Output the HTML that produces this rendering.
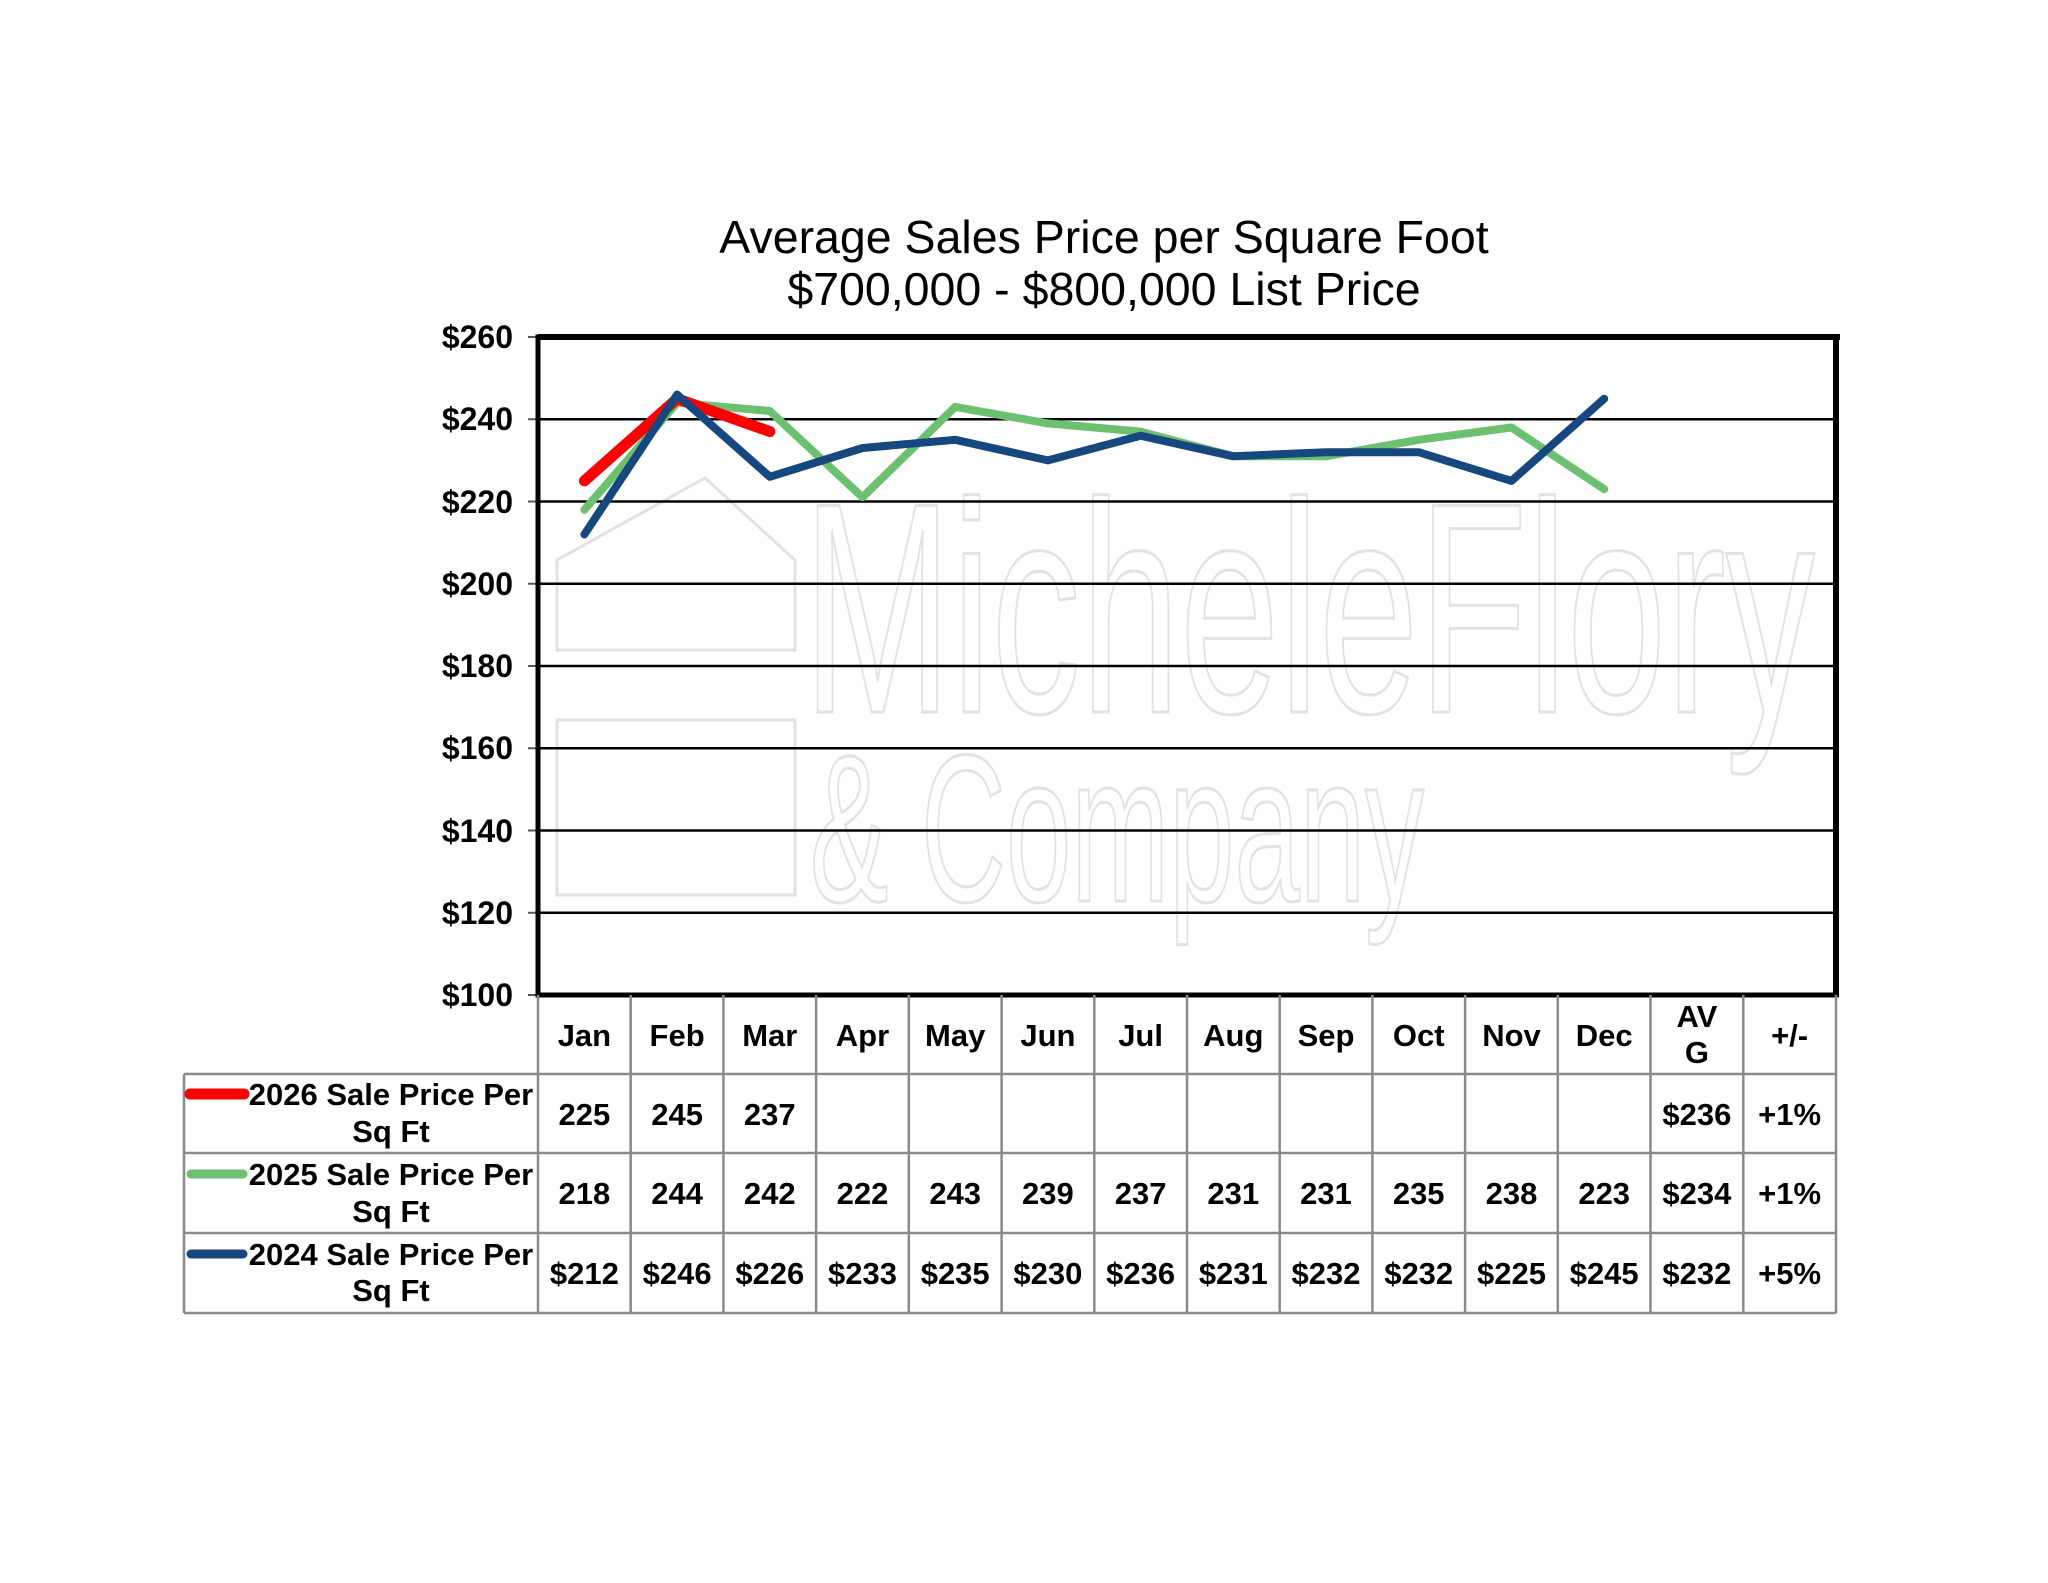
<!DOCTYPE html>
<html><head><meta charset="utf-8"><style>
html,body{margin:0;padding:0;background:#fff;}
svg{display:block;}
.t{font-family:"Liberation Sans",Arial,sans-serif;}
</style></head><body>
<svg width="2048" height="1583" viewBox="0 0 2048 1583" xmlns="http://www.w3.org/2000/svg">
<rect width="2048" height="1583" fill="#fff"/>
<text class="t" x="1104" y="253" font-size="46.5" text-anchor="middle">Average Sales Price per Square Foot</text>
<text class="t" x="1104" y="305" font-size="46.5" text-anchor="middle">$700,000 - $800,000 List Price</text>

<!-- watermark -->
<g fill="none" stroke="#e2e2e2" stroke-width="3">
<text class="t" x="803" y="712" font-size="300" textLength="1012" lengthAdjust="spacingAndGlyphs">MicheleFlory</text>
<text class="t" x="810" y="901" font-size="210" textLength="614" lengthAdjust="spacingAndGlyphs">&amp; Company</text>
<path d="M557 640 V560 L705 478 L795 560 V650 H557 Z"/>
<path d="M557 895 V720 H795 V895 Z"/>
</g>

<!-- gridlines -->
<g stroke="#000" stroke-width="2.5">
<line x1="538" x2="1836" y1="419.25" y2="419.25"/>
<line x1="538" x2="1836" y1="501.5" y2="501.5"/>
<line x1="538" x2="1836" y1="583.75" y2="583.75"/>
<line x1="538" x2="1836" y1="666" y2="666"/>
<line x1="538" x2="1836" y1="748.25" y2="748.25"/>
<line x1="538" x2="1836" y1="830.5" y2="830.5"/>
<line x1="538" x2="1836" y1="912.75" y2="912.75"/>
</g>
<g stroke="#555" stroke-width="2">
<line x1="528" x2="538" y1="337" y2="337"/><line x1="528" x2="538" y1="419.25" y2="419.25"/>
<line x1="528" x2="538" y1="501.5" y2="501.5"/><line x1="528" x2="538" y1="583.75" y2="583.75"/>
<line x1="528" x2="538" y1="666" y2="666"/><line x1="528" x2="538" y1="748.25" y2="748.25"/>
<line x1="528" x2="538" y1="830.5" y2="830.5"/><line x1="528" x2="538" y1="912.75" y2="912.75"/>
<line x1="528" x2="538" y1="995" y2="995"/>
</g>
<rect x="538" y="337" width="1298" height="658" fill="none" stroke="#000" stroke-width="5"/>
<line x1="538" x2="1840" y1="337" y2="337" stroke="#000" stroke-width="6"/>
<line x1="1836" x2="1836" y1="335" y2="997" stroke="#000" stroke-width="6"/>

<g class="t" font-weight="bold" font-size="32" text-anchor="end">
<text x="513" y="348">$260</text><text x="513" y="430">$240</text>
<text x="513" y="513">$220</text><text x="513" y="595">$200</text>
<text x="513" y="677">$180</text><text x="513" y="759">$160</text>
<text x="513" y="842">$140</text><text x="513" y="924">$120</text>
<text x="513" y="1006">$100</text>
</g>

<!-- series -->
<g fill="none" stroke-linejoin="round" stroke-linecap="round">
<polyline stroke="#6cc070" stroke-width="8" points="584.4,509.7 677.1,402.8 769.8,411 862.5,497.3 955.2,406.9 1047.9,423.4 1140.6,431.6 1233.3,456.3 1326,456.3 1418.7,439.8 1511.5,427.5 1604.2,489.2"/>
<polyline stroke="#ff0000" stroke-width="11" points="584.4,480.9 677.1,398.7 769.8,431.6"/>
<polyline stroke="#17477f" stroke-width="8" points="584.4,534.4 677.1,394.6 769.8,476.8 862.5,448 955.2,439.8 1047.9,460.4 1140.6,435.7 1233.3,456.3 1326,452.2 1418.7,452.2 1511.5,480.9 1604.2,398.7"/>
</g>

<!-- table -->
<g stroke="#8a8a8a" stroke-width="2.5">
<line x1="184" x2="1836" y1="1074" y2="1074"/>
<line x1="184" x2="1836" y1="1153" y2="1153"/>
<line x1="184" x2="1836" y1="1233" y2="1233"/>
<line x1="184" x2="1836" y1="1313" y2="1313"/>
<line x1="184" x2="184" y1="1074" y2="1313"/>
<line x1="538" x2="538" y1="995" y2="1313"/><line x1="630.7" x2="630.7" y1="995" y2="1313"/>
<line x1="723.4" x2="723.4" y1="995" y2="1313"/><line x1="816.1" x2="816.1" y1="995" y2="1313"/>
<line x1="908.8" x2="908.8" y1="995" y2="1313"/><line x1="1001.6" x2="1001.6" y1="995" y2="1313"/>
<line x1="1094.3" x2="1094.3" y1="995" y2="1313"/><line x1="1187" x2="1187" y1="995" y2="1313"/>
<line x1="1279.7" x2="1279.7" y1="995" y2="1313"/><line x1="1372.4" x2="1372.4" y1="995" y2="1313"/>
<line x1="1465.1" x2="1465.1" y1="995" y2="1313"/><line x1="1557.8" x2="1557.8" y1="995" y2="1313"/>
<line x1="1650.5" x2="1650.5" y1="995" y2="1313"/><line x1="1743.3" x2="1743.3" y1="995" y2="1313"/>
<line x1="1836" x2="1836" y1="995" y2="1313"/>
</g>
<g class="t" font-weight="bold" font-size="31" text-anchor="middle">
<text x="584.4" y="1046">Jan</text><text x="677.1" y="1046">Feb</text><text x="769.8" y="1046">Mar</text>
<text x="862.5" y="1046">Apr</text><text x="955.2" y="1046">May</text><text x="1047.9" y="1046">Jun</text>
<text x="1140.6" y="1046">Jul</text><text x="1233.3" y="1046">Aug</text><text x="1326" y="1046">Sep</text>
<text x="1418.7" y="1046">Oct</text><text x="1511.5" y="1046">Nov</text><text x="1604.2" y="1046">Dec</text>
<text x="1696.9" y="1027">AV</text><text x="1696.9" y="1063">G</text><text x="1789.6" y="1046">+/-</text>

<text x="584.4" y="1125">225</text><text x="677.1" y="1125">245</text><text x="769.8" y="1125">237</text>
<text x="1696.9" y="1125">$236</text><text x="1789.6" y="1125">+1%</text>

<text x="584.4" y="1204">218</text><text x="677.1" y="1204">244</text><text x="769.8" y="1204">242</text>
<text x="862.5" y="1204">222</text><text x="955.2" y="1204">243</text><text x="1047.9" y="1204">239</text>
<text x="1140.6" y="1204">237</text><text x="1233.3" y="1204">231</text><text x="1326" y="1204">231</text>
<text x="1418.7" y="1204">235</text><text x="1511.5" y="1204">238</text><text x="1604.2" y="1204">223</text>
<text x="1696.9" y="1204">$234</text><text x="1789.6" y="1204">+1%</text>

<text x="584.4" y="1284">$212</text><text x="677.1" y="1284">$246</text><text x="769.8" y="1284">$226</text>
<text x="862.5" y="1284">$233</text><text x="955.2" y="1284">$235</text><text x="1047.9" y="1284">$230</text>
<text x="1140.6" y="1284">$236</text><text x="1233.3" y="1284">$231</text><text x="1326" y="1284">$232</text>
<text x="1418.7" y="1284">$232</text><text x="1511.5" y="1284">$225</text><text x="1604.2" y="1284">$245</text>
<text x="1696.9" y="1284">$232</text><text x="1789.6" y="1284">+5%</text>
</g>

<g stroke-linecap="round">
<line x1="190" x2="244" y1="1094" y2="1094" stroke="#ff0000" stroke-width="11"/>
<line x1="191" x2="243" y1="1174" y2="1174" stroke="#6cc070" stroke-width="9"/>
<line x1="191" x2="243" y1="1254" y2="1254" stroke="#17477f" stroke-width="9"/>
</g>
<g class="t" font-weight="bold" font-size="31" text-anchor="middle">
<text x="391" y="1105">2026 Sale Price Per</text><text x="391" y="1142">Sq Ft</text>
<text x="391" y="1185">2025 Sale Price Per</text><text x="391" y="1222">Sq Ft</text>
<text x="391" y="1265">2024 Sale Price Per</text><text x="391" y="1301">Sq Ft</text>
</g>
</svg>
</body></html>
